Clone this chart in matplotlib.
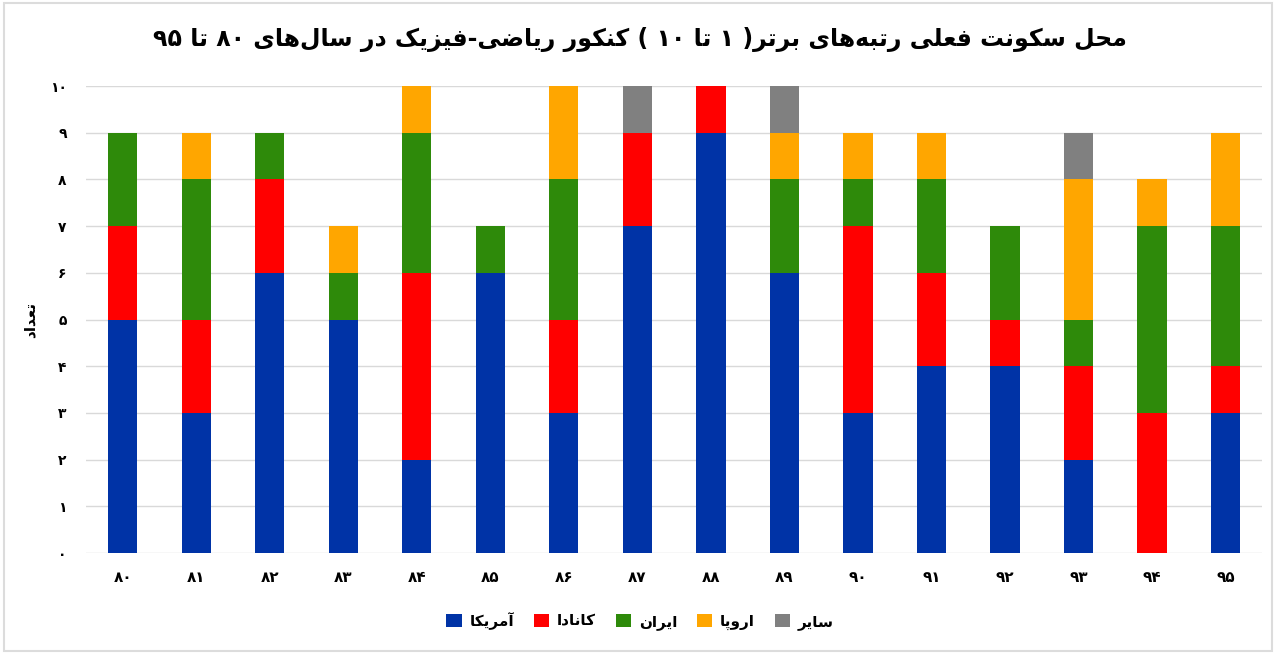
import matplotlib
matplotlib.use("Agg")
import matplotlib.pyplot as plt
import numpy as np
from matplotlib.patches import Rectangle

# data (years 80..95)
years = [80, 81, 82, 83, 84, 85, 86, 87, 88, 89, 90, 91, 92, 93, 94, 95]
america = [5, 3, 6, 5, 2, 6, 3, 7, 9, 6, 3, 4, 4, 2, 0, 3]
canada = [2, 2, 2, 0, 4, 0, 2, 2, 1, 0, 4, 2, 1, 2, 3, 1]
iran = [2, 3, 1, 1, 3, 1, 3, 0, 0, 2, 1, 2, 2, 1, 4, 3]
europe = [0, 1, 0, 1, 1, 0, 2, 0, 0, 1, 1, 1, 0, 3, 1, 2]
other = [0, 0, 0, 0, 0, 0, 0, 1, 0, 1, 0, 0, 0, 1, 0, 0]

series_names = ['آمریکا', 'کانادا', 'ایران', 'اروپا', 'سایر']
colors = ['#0033a6', '#ff0000', '#2e8a0a', '#ffa600', '#808080']
title = 'محل سکونت فعلی رتبه\u200cهای برتر( ۱ تا ۱۰ ) کنکور ریاضی-فیزیک در سال\u200cهای ۸۰ تا ۹۵'
ylabel = 'تعداد'

# matplotlib has no arabic shaping, so do it by hand with presentation forms
forms = {
    'ا': (0xFE8D, 0xFE8E), 'آ': (0xFE81, 0xFE82), 'د': (0xFEA9, 0xFEAA),
    'ر': (0xFEAD, 0xFEAE), 'ز': (0xFEAF, 0xFEB0), 'و': (0xFEED, 0xFEEE),
    'ب': (0xFE8F, 0xFE90, 0xFE91, 0xFE92), 'پ': (0xFB56, 0xFB57, 0xFB58, 0xFB59),
    'ت': (0xFE95, 0xFE96, 0xFE97, 0xFE98), 'ح': (0xFEA1, 0xFEA2, 0xFEA3, 0xFEA4),
    'س': (0xFEB1, 0xFEB2, 0xFEB3, 0xFEB4), 'ض': (0xFEBD, 0xFEBE, 0xFEBF, 0xFEC0),
    'ع': (0xFEC9, 0xFECA, 0xFECB, 0xFECC), 'ف': (0xFED1, 0xFED2, 0xFED3, 0xFED4),
    'ک': (0xFB8E, 0xFB8F, 0xFB90, 0xFB91), 'ل': (0xFEDD, 0xFEDE, 0xFEDF, 0xFEE0),
    'م': (0xFEE1, 0xFEE2, 0xFEE3, 0xFEE4), 'ن': (0xFEE5, 0xFEE6, 0xFEE7, 0xFEE8),
    'ه': (0xFEE9, 0xFEEA, 0xFEEB, 0xFEEC), 'ی': (0xFBFC, 0xFBFD, 0xFBFE, 0xFBFF),
}


def fa(s):
    out = []
    for i, ch in enumerate(s):
        if ch not in forms:
            out.append(ch)
            continue
        p = s[i - 1] if i > 0 else ''
        n = s[i + 1] if i + 1 < len(s) else ''
        f = forms[ch]
        jp = p in forms and len(forms[p]) == 4
        jn = n in forms and len(f) == 4
        if jp and jn:
            out.append(chr(f[3]))
        elif jp:
            out.append(chr(f[1]))
        elif jn:
            out.append(chr(f[2]))
        else:
            out.append(chr(f[0]))
    vis = ''.join(c for c in out if c != '\u200c')[::-1]
    vis = vis.translate(str.maketrans('()', ')('))
    res, run = '', ''
    for c in vis:
        if '۰' <= c <= '۹':
            run += c
        else:
            res += run[::-1] + c
            run = ''
    return res + run[::-1]


def fa_num(n):
    return str(n).translate(str.maketrans('0123456789', '۰۱۲۳۴۵۶۷۸۹'))


plt.rcParams['font.family'] = ['DejaVu Sans']
plt.rcParams['font.weight'] = 'bold'

fig = plt.figure(figsize=(12.8, 6.55), dpi=100)
ax = fig.add_axes([0.0672, 0.1557, 0.9188, 0.713])

x = np.arange(len(years))
bottom = np.zeros(len(years))
for name, vals, c in zip(series_names, [america, canada, iran, europe, other], colors):
    ax.bar(x, vals, bottom=bottom, width=0.4, color=c, label=fa(name), zorder=2)
    bottom += np.array(vals)

ax.set_xlim(-0.5, len(years) - 0.5)
ax.set_ylim(0, 10)
ax.set_yticks(range(11))
ax.set_yticklabels([fa_num(v) for v in range(11)], fontsize=10, fontweight='bold')
ax.set_xticks(x)
ax.set_xticklabels([fa_num(y) for y in years], fontsize=11, fontweight='bold')
ax.tick_params(length=0)
ax.tick_params(axis='y', pad=14)
ax.tick_params(axis='x', pad=12)
ax.grid(axis='y', color='#d9d9d9', linewidth=1, zorder=0)
for s in ax.spines.values():
    s.set_visible(False)

ax.set_ylabel(fa(ylabel), fontsize=11, fontweight='bold', labelpad=9)
fig.text(0.5, 0.94, fa(title), ha='center', va='center', fontsize=17, fontweight='bold')

leg = fig.legend(loc='center', bbox_to_anchor=(0.5, 0.052), ncol=5, frameon=False,
                 fontsize=11, handlelength=1.0, handleheight=1.0, columnspacing=1.3,
                 handletextpad=0.5)

fig.patches.append(Rectangle((0.003, 0.006), 0.991, 0.99, transform=fig.transFigure,
                             fill=False, edgecolor='#dcdcdc', linewidth=1.5))

fig.savefig('out.png', dpi=100, facecolor='white')
